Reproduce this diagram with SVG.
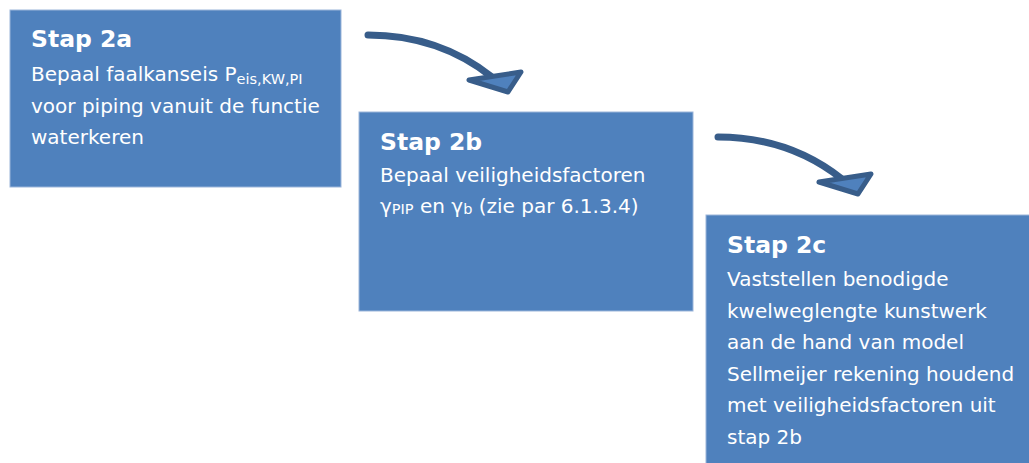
<svg xmlns="http://www.w3.org/2000/svg" width="1029" height="463" viewBox="0 0 1029 463">
<style>
.box{fill:#4F81BD;stroke:#9BB5DA;stroke-width:1}
.t{font-family:"DejaVu Sans","Verdana",sans-serif;fill:#FFFFFF}
.h{font-size:23.5px;font-weight:bold}
.b{font-size:20px}
.s{font-size:14.5px}
.line{fill:none;stroke:#385D8A;stroke-width:7;stroke-linecap:round}
.head{fill:#4F81BD;stroke:#385D8A;stroke-width:5;stroke-linejoin:round}
</style>
<rect width="1029" height="463" fill="#FFFFFF"/>
<g id="connectors">
  <g id="arrow1">
    <path class="line" d="M368,35 C418,35 458,50 492,77"/>
    <polygon class="head" points="469,80 521,72 508,92"/>
  </g>
  <g id="arrow2" transform="translate(350,102)">
    <path class="line" d="M368,35 C418,35 458,50 492,77"/>
    <polygon class="head" points="469,80 521,72 508,92"/>
  </g>
</g>
<g id="stap2a">
  <rect class="box" x="10" y="10" width="331" height="177"/>
  <text class="t h" x="31" y="47">Stap 2a</text>
  <text class="t b" x="31" y="81">Bepaal faalkanseis P<tspan class="s" dy="3">eis,KW,PI</tspan></text>
  <text class="t b" x="31" y="113">voor piping vanuit de functie</text>
  <text class="t b" x="31" y="144">waterkeren</text>
</g>
<g id="stap2b">
  <rect class="box" x="359" y="112" width="334" height="199"/>
  <text class="t h" x="380" y="150">Stap 2b</text>
  <text class="t b" x="380" y="182">Bepaal veiligheidsfactoren</text>
  <text class="t b" x="380" y="213">γ<tspan class="s" dy="1">PIP</tspan><tspan dy="-1"> en γ</tspan><tspan class="s" dy="1">b</tspan><tspan dy="-1"> (zie par 6.1.3.4)</tspan></text>
</g>
<g id="stap2c">
  <rect class="box" x="706" y="215" width="330" height="255"/>
  <text class="t h" x="727" y="253">Stap 2c</text>
  <text class="t b" x="727" y="286">Vaststellen benodigde</text>
  <text class="t b" x="727" y="318">kwelweglengte kunstwerk</text>
  <text class="t b" x="727" y="349">aan de hand van model</text>
  <text class="t b" x="727" y="381">Sellmeijer rekening houdend</text>
  <text class="t b" x="727" y="412">met veiligheidsfactoren uit</text>
  <text class="t b" x="727" y="444">stap 2b</text>
</g>
</svg>
